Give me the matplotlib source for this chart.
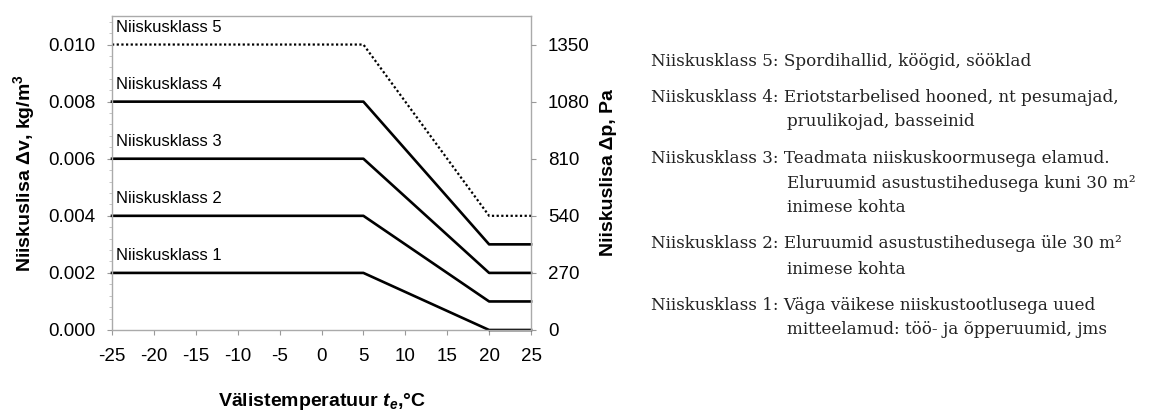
import matplotlib
matplotlib.use("Agg")
import matplotlib.pyplot as plt
from matplotlib.ticker import MultipleLocator

plt.rcParams['font.family'] = ['Liberation Sans', 'DejaVu Sans']
plt.rcParams['axes.unicode_minus'] = False
plt.rcParams['mathtext.fontset'] = 'custom'
plt.rcParams['mathtext.it'] = 'Liberation Sans:italic:bold'
plt.rcParams['mathtext.rm'] = 'Liberation Sans:bold'

# data
temps = [-25, 5, 20, 25]
class_names = ["Niiskusklass 1", "Niiskusklass 2", "Niiskusklass 3",
               "Niiskusklass 4", "Niiskusklass 5"]
dv_cold = [0.002, 0.004, 0.006, 0.008, 0.010]
dv_warm = [0.000, 0.001, 0.002, 0.003, 0.004]
dv_ticks = [0.000, 0.002, 0.004, 0.006, 0.008, 0.010]
pa_ticks = [0, 270, 540, 810, 1080, 1350]
pa_per_dv = 1350 / 0.010

descr = [
    ["Niiskusklass 5: Spordihallid, köögid, sööklad"],
    ["Niiskusklass 4: Eriotstarbelised hooned, nt pesumajad,",
     "pruulikojad, basseinid"],
    ["Niiskusklass 3: Teadmata niiskuskoormusega elamud.",
     "Eluruumid asustustihedusega kuni 30 m²",
     "inimese kohta"],
    ["Niiskusklass 2: Eluruumid asustustihedusega üle 30 m²",
     "inimese kohta"],
    ["Niiskusklass 1: Väga väikese niiskustootlusega uued",
     "mitteelamud: töö- ja õpperuumid, jms"],
]

W, H = 1158, 412
fig = plt.figure(figsize=(W / 100, H / 100), dpi=100)
ax = fig.add_axes([112 / W, 82 / H, 419 / W, 314 / H])

for i, name in enumerate(class_names):
    ys = [dv_cold[i], dv_cold[i], dv_warm[i], dv_warm[i]]
    if i == 4:
        ax.plot(temps, ys, color='black', lw=1.6, ls=(0, (1, 1.1)), clip_on=False)
    else:
        ax.plot(temps, ys, color='black', lw=1.9, clip_on=False)
    ax.text(-24.5, dv_cold[i] + 0.00035, name, fontsize=12, va='bottom', ha='left')

ax.set_xlim(-25, 25)
ax.set_ylim(0, 0.011)
ax.set_xticks(range(-25, 26, 5))
ax.set_yticks(dv_ticks)
ax.set_yticklabels(["%.3f" % v for v in dv_ticks])
ax.yaxis.set_minor_locator(MultipleLocator(0.0004))
ax.tick_params(axis='x', which='major', labelsize=13.5, length=3.6, color='#999999', pad=9.5)
ax.tick_params(axis='y', which='major', labelsize=13.5, length=3.6, color='#999999', pad=8.6)
ax.tick_params(axis='y', which='minor', length=2.5, color='#bbbbbb')
for s in ax.spines.values():
    s.set_color('#aaaaaa')
    s.set_linewidth(1.0)

ax.set_ylabel("Niiskuslisa Δv, kg/m$^3$", fontsize=14, fontweight='bold', labelpad=8)
ax.set_xlabel("Välistemperatuur $t_e$,°C", fontsize=14, fontweight='bold')
ax.xaxis.set_label_coords(0.5, -0.195)

ax2 = ax.twinx()
ax2.set_ylim(0, 0.011 * pa_per_dv)
ax2.set_yticks(pa_ticks)
ax2.tick_params(axis='y', labelsize=13.5, length=3.6, color='#999999', pad=8.6)
for s in ax2.spines.values():
    s.set_visible(False)
ax2.set_ylabel("Niiskuslisa Δp, Pa", fontsize=14, fontweight='bold', labelpad=7)

# description text on the right
x_head = 651
x_cont = 787
y = 61
for lines in descr:
    for j, ln in enumerate(lines):
        x = x_head if j == 0 else x_cont
        fig.text(x / W, 1 - y / H, ln, family=['DejaVu Serif'], fontsize=12.1,
                 va='center', ha='left', color='#222222')
        y += 25
    y += 11

fig.savefig("out.png", dpi=100)
